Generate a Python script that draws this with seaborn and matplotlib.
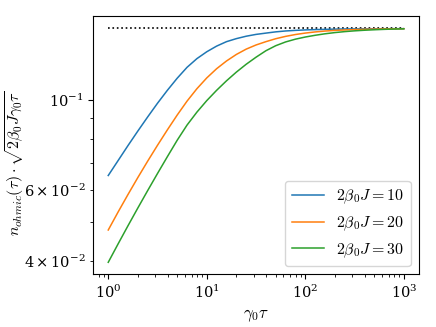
import numpy as np
import pandas as pd
import matplotlib
matplotlib.use("Agg")
import matplotlib.pyplot as plt
import seaborn as sns

# ---- data (stored as log10 values of the log-log plot) ----
log10_gamma_tau = [0.0, 0.1, 0.2, 0.3, 0.4, 0.5, 0.6, 0.7, 0.8, 0.9, 1.0,
                   1.1, 1.2, 1.3, 1.4, 1.5, 1.6, 1.7, 1.8, 1.9, 2.0,
                   2.1, 2.2, 2.3, 2.4, 2.5, 2.6, 2.7, 2.8, 2.9, 3.0]
log10_n_J10 = [-1.187, -1.150, -1.113, -1.077, -1.042, -1.008, -0.976, -0.946,
               -0.919, -0.8975, -0.8805, -0.8665, -0.8555, -0.848, -0.842, -0.8375,
               -0.8343, -0.8312, -0.829, -0.8275, -0.8264, -0.8256, -0.825, -0.8245,
               -0.8241, -0.8239, -0.8237, -0.8236, -0.8235, -0.8234, -0.8234]
log10_n_J20 = [-1.322, -1.2774, -1.2342, -1.1922, -1.1515, -1.1121, -1.0740, -1.0372,
               -1.0027, -0.9720, -0.9453, -0.9225, -0.9034, -0.8872, -0.8740, -0.8637,
               -0.8555, -0.8482, -0.8424, -0.8378, -0.8342, -0.8314, -0.8292, -0.8276,
               -0.8265, -0.8256, -0.8249, -0.8244, -0.8240, -0.8237, -0.8234]
log10_n_J30 = [-1.402, -1.3564, -1.3116, -1.2676, -1.2244, -1.182, -1.1404, -1.0996,
               -1.0620, -1.0300, -1.0015, -0.976, -0.9525, -0.931, -0.9115, -0.894,
               -0.878, -0.8655, -0.8562, -0.8493, -0.8440, -0.8397, -0.836, -0.833,
               -0.8306, -0.8287, -0.8272, -0.826, -0.825, -0.8242, -0.8236]
labels = [r"$2\beta_0 J = 10$", r"$2\beta_0 J = 20$", r"$2\beta_0 J = 30$"]
asymptote_x = [1.0, 1000.0]
asymptote_y = [0.1510, 0.1510]

colors = ["#1f77b4", "#ff7f0e", "#2ca02c"]

gamma_tau = 10 ** np.array(log10_gamma_tau)

plt.rcParams["mathtext.fontset"] = "cm"
plt.rcParams["font.family"] = ["DejaVu Serif"]

fig = plt.figure(figsize=(4.36, 3.27), dpi=100)
ax = fig.add_axes([0.2144, 0.162, 0.7456, 0.789])

sns.lineplot(x=asymptote_x, y=asymptote_y, ax=ax, color="black",
             linestyle=":", linewidth=1.2)
for ys, lab, c in zip([log10_n_J10, log10_n_J20, log10_n_J30], labels, colors):
    df = pd.DataFrame({"x": gamma_tau, "y": 10 ** np.array(ys)})
    sns.lineplot(data=df, x="x", y="y", ax=ax, color=c, label=lab, linewidth=1.1)

ax.set_xscale("log")
ax.set_yscale("log")
ax.tick_params(which="both", labelsize=10.5)
ax.tick_params(which="major", length=3.5, width=0.8)
ax.tick_params(which="minor", length=2, width=0.6)
ax.set_xlabel(r"$\gamma_0\tau$", fontsize=12)
ax.set_ylabel(r"$n_{ohmic}(\tau)\cdot\sqrt{2\beta_0 J\gamma_0\tau}$", fontsize=11.5)
ax.yaxis.set_label_coords(-0.207, 0.43)
ax.legend(loc="lower right", fontsize=11.5)

fig.savefig("out.png", dpi=100)
